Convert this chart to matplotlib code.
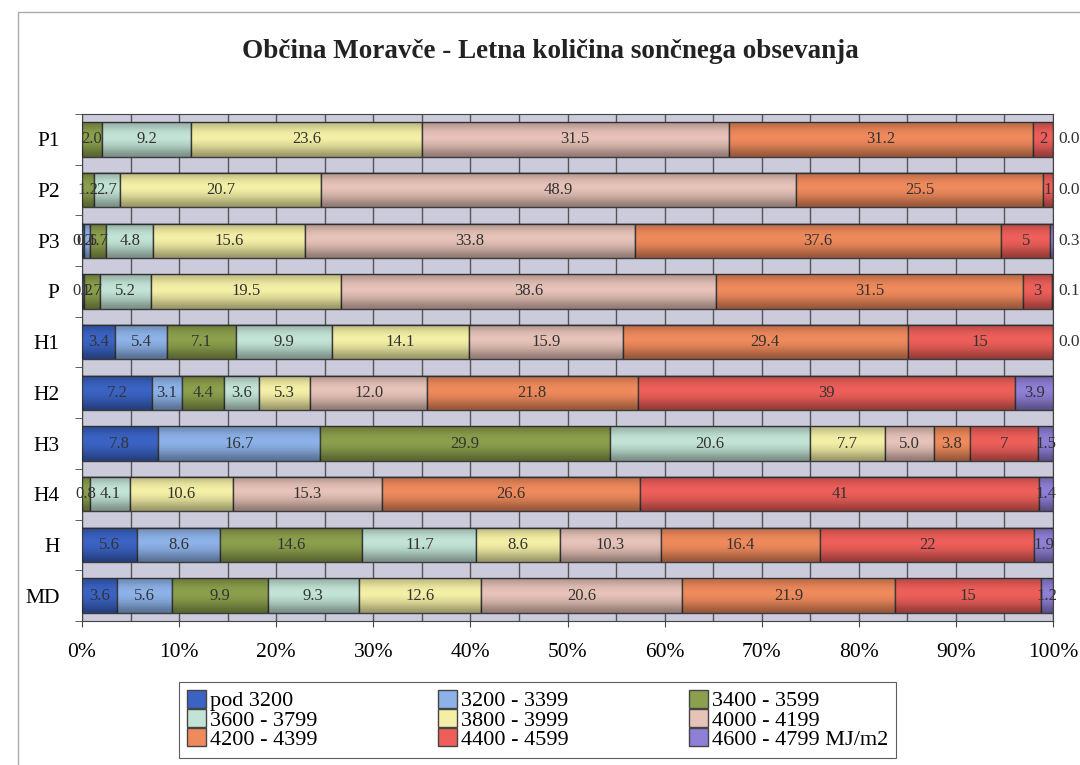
import numpy as np
import matplotlib
matplotlib.use("Agg")
import matplotlib.pyplot as plt
from matplotlib.patches import Patch, Rectangle

# Step 1: chart data (rows top to bottom, one list per energy band)
rows = ["P1", "P2", "P3", "P", "H1", "H2", "H3", "H4", "H", "MD"]
bands = ["pod 3200", "3200 - 3399", "3400 - 3599",
         "3600 - 3799", "3800 - 3999", "4000 - 4199",
         "4200 - 4399", "4400 - 4599", "4600 - 4799 MJ/m2"]

pod_3200 = [np.nan, np.nan, 0.2, 0.2, 3.4, 7.2, 7.8, np.nan, 5.6, 3.6]
b_3200 = [np.nan, np.nan, 0.6, np.nan, 5.4, 3.1, 16.7, np.nan, 8.6, 5.6]
b_3400 = [2.0, 1.2, 1.7, 1.7, 7.1, 4.4, 29.9, 0.8, 14.6, 9.9]
b_3600 = [9.2, 2.7, 4.8, 5.2, 9.9, 3.6, 20.6, 4.1, 11.7, 9.3]
b_3800 = [23.6, 20.7, 15.6, 19.5, 14.1, 5.3, 7.7, 10.6, 8.6, 12.6]
b_4000 = [31.5, 48.9, 33.8, 38.6, 15.9, 12.0, 5.0, 15.3, 10.3, 20.6]
b_4200 = [31.2, 25.5, 37.6, 31.5, 29.4, 21.8, 3.8, 26.6, 16.4, 21.9]
b_4400 = [2, 1, 5, 3, 15, 39, 7, 41, 22, 15]
b_4600 = [0.0, 0.0, 0.3, 0.1, 0.0, 3.9, 1.5, 1.4, 1.9, 1.2]

colors = ["#3b63c4", "#8db2e8", "#8c9f4c", "#c2e3d6", "#f3efa6",
          "#e6c2b8", "#ef8a5c", "#ee5f5a", "#8f7fd6"]

# Step 2: stack and scale each row to 100 %
data = np.array([pod_3200, b_3200, b_3400, b_3600, b_3800,
                 b_4000, b_4200, b_4400, b_4600], dtype=float)
filled = np.nan_to_num(data)
share = filled / filled.sum(axis=0) * 100
left = np.vstack([np.zeros(len(rows)), np.cumsum(share, axis=0)[:-1]])

y = np.arange(len(rows))
bar_h = 0.68

fig = plt.figure(figsize=(10.8, 7.65), dpi=100)
ax = fig.add_axes([82 / 1080, 1 - 621 / 765, (1053 - 82) / 1080, (621 - 114) / 765])
ax.set_facecolor("#cccbdc")

serif = "Liberation Serif"

# Step 3: bars
for i in range(len(bands)):
    ax.barh(y, share[i], left=left[i], height=bar_h, color=colors[i],
            edgecolor="#3c3c3c", linewidth=1.0, zorder=3)

# soft shading to mimic the rounded look of the original bars
shade = np.array([0.22, 0.06, 0.0, 0.0, 0.08, 0.2, 0.36])
cmap = matplotlib.colors.LinearSegmentedColormap.from_list("s", [(0, 0, 0, 0), (0, 0, 0, 1)])
for yi in y:
    ax.imshow(shade.reshape(-1, 1), cmap=cmap, vmin=0, vmax=1, aspect="auto",
              extent=(0, 100, yi + bar_h / 2, yi - bar_h / 2), zorder=4,
              interpolation="bicubic")

# Step 4: value labels
for i in range(len(bands)):
    for j in range(len(rows)):
        v = data[i, j]
        if np.isnan(v):
            continue
        text = f"{v:g}" if i == 7 else f"{v:.1f}"
        if i == 8 and v < 0.5:
            ax.text(100.6, y[j], text, ha="left", va="center", fontsize=12.5,
                    family=serif, color="#333333", zorder=6, clip_on=False)
        else:
            ax.text(left[i, j] + share[i, j] / 2, y[j], text, ha="center",
                    va="center", fontsize=12, family=serif, color="#333333",
                    zorder=6, clip_on=False)

# Step 5: axes
ax.set_xlim(0, 100)
ax.set_ylim(len(rows) - 0.5, -0.5)
ax.set_xticks(np.arange(0, 101, 10))
ax.set_xticklabels([f"{t}%" for t in range(0, 101, 10)], family=serif, fontsize=15.5)
ax.set_xticks(np.arange(0, 101, 5), minor=True)
ax.grid(True, axis="x", which="both", color="#555555", linewidth=1.0, zorder=1)
ax.set_axisbelow(True)
ax.set_yticks(y)
ax.set_yticklabels(rows, family=serif, fontsize=15.5)
ax.set_yticks(np.arange(-0.5, len(rows), 1), minor=True)
ax.tick_params(axis="y", which="major", length=0, pad=16)
ax.tick_params(axis="y", which="minor", length=5, color="#444444")
ax.tick_params(axis="x", which="major", length=4, pad=12, color="#444444")
ax.tick_params(axis="x", which="minor", length=0)
for s in ax.spines.values():
    s.set_color("#444444")

# Step 6: title, legend and outer frame
fig.text(0.51, 1 - 52 / 765, "Občina Moravče - Letna količina sončnega obsevanja",
         ha="center", va="center", family=serif, fontsize=19.5, fontweight="bold",
         color="#222222")

handles = [Patch(facecolor=c, edgecolor="#444444") for c in colors]
order = [0, 3, 6, 1, 4, 7, 2, 5, 8]
leg = fig.legend([handles[k] for k in order], [bands[k] for k in order],
                 ncol=3, loc="upper center", bbox_to_anchor=(0.498, 1 - 682 / 765),
                 prop={"family": serif, "size": 16}, frameon=True, fancybox=False,
                 edgecolor="#333333", labelspacing=-0.1, handlelength=0.85,
                 handleheight=0.85, handletextpad=0.2, columnspacing=5.4,
                 borderpad=0.35, borderaxespad=0)
leg.get_frame().set_linewidth(0.8)

fig.patches.append(Rectangle((18 / 1080, -0.1), 1.2, 1 - 12 / 765 + 0.1,
                             transform=fig.transFigure, fill=False,
                             edgecolor="#aaaaaa", linewidth=1.0))

fig.savefig("out.png", dpi=100)
